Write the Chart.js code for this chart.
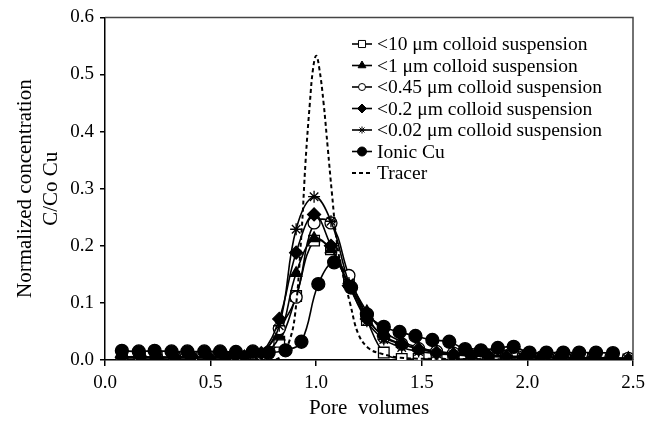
<!DOCTYPE html>
<html>
<head>
<meta charset="utf-8">
<script src="https://cdn.jsdelivr.net/npm/chart.js@4/dist/chart.umd.min.js"></script>
<style>
html,body{margin:0;padding:0;background:#fff;}
canvas{display:block;}
</style>
</head>
<body>
<canvas id="c" width="653" height="421"></canvas>
<script>
// ---- data ----
const seriesNames = [
  "<10 μm colloid suspension",
  "<1 μm colloid suspension",
  "<0.45 μm colloid suspension",
  "<0.2 μm colloid suspension",
  "<0.02 μm colloid suspension",
  "Ionic Cu",
  "Tracer"
];
const colloidPV = [0.08,0.165,0.245,0.33,0.41,0.495,0.575,0.66,0.74,0.825,0.905,0.99,1.07,1.155,1.24,1.32,1.405,1.485,1.57,1.65,1.735,1.815,1.9,1.98,2.065,2.15,2.23,2.31,2.395,2.478];
const c10um  = [0.006,0.004,0.005,0.004,0.005,0.004,0.005,0.004,0.006,0.032,0.112,0.209,0.194,0.136,0.070,0.013,0.002,0.002,0.001,0.001,0.002,0.001,0.001,0.002,0.001,0.001,0.001,0.002,0.001,0.001];
const c1um   = [0.005,0.004,0.006,0.004,0.005,0.004,0.005,0.005,0.008,0.041,0.152,0.213,0.194,0.140,0.085,0.050,0.032,0.022,0.015,0.011,0.008,0.007,0.006,0.005,0.005,0.004,0.004,0.004,0.003,0.003];
const c045um = [0.004,0.005,0.004,0.005,0.004,0.005,0.004,0.005,0.010,0.055,0.110,0.240,0.240,0.148,0.078,0.040,0.028,0.020,0.015,0.012,0.010,0.008,0.007,0.006,0.005,0.005,0.004,0.004,0.004,0.003];
const c02um  = [0.005,0.006,0.004,0.005,0.006,0.004,0.005,0.006,0.012,0.072,0.188,0.255,0.200,0.130,0.072,0.042,0.028,0.019,0.013,0.010,0.008,0.007,0.006,0.005,0.005,0.004,0.004,0.003,0.003,0.001];
const c002um = [0.003,0.004,0.003,0.004,0.003,0.004,0.003,0.004,0.010,0.060,0.229,0.286,0.243,0.135,0.068,0.036,0.022,0.015,0.011,0.009,0.007,0.006,0.005,0.005,0.004,0.004,0.003,0.003,0.003,0.002];
const ionicPV = [0.08,0.16,0.235,0.315,0.39,0.47,0.545,0.62,0.70,0.775,0.855,0.93,1.01,1.085,1.165,1.24,1.32,1.395,1.47,1.55,1.63,1.705,1.78,1.86,1.935,2.01,2.09,2.17,2.245,2.325,2.405];
const ionicCu = [0.016,0.015,0.016,0.015,0.015,0.015,0.015,0.014,0.015,0.013,0.017,0.032,0.133,0.171,0.127,0.080,0.058,0.049,0.042,0.035,0.032,0.019,0.017,0.021,0.023,0.013,0.013,0.013,0.013,0.013,0.012];
const tracerPV = [0.08,0.3,0.5,0.7,0.78,0.83,0.87,0.9,0.93,0.95,0.97,0.985,1.0,1.015,1.035,1.055,1.075,1.1,1.13,1.16,1.2,1.25,1.3,1.4,1.6,2.0,2.5];
const tracerC  = [0,0,0,0,0,0.005,0.03,0.08,0.22,0.35,0.45,0.51,0.533,0.51,0.45,0.37,0.29,0.2,0.145,0.1,0.045,0.02,0.012,0.004,0.002,0.001,0];
const xTicks = [0.0,0.5,1.0,1.5,2.0,2.5];
const yTicks = [0.0,0.1,0.2,0.3,0.4,0.5,0.6];

// ---- build chart ----
const pts = (xs, ys) => xs.map((x, i) => ({x: x, y: ys[i]}));
const SERIF = "'Liberation Serif','Times New Roman',serif";
Chart.defaults.color = '#000';
Chart.defaults.font.family = SERIF;

const styles = [
  {pointStyle:'rect',     r:7.5, lr:5,   fill:'#fff'},
  {pointStyle:'triangle', r:6.5, lr:4.5, fill:'#000'},
  {pointStyle:'circle',   r:6,   lr:3.5, fill:'#fff'},
  {pointStyle:'rectRot',  r:6.5, lr:4.5, fill:'#000'},
  {pointStyle:'star',     r:6,   lr:3.5, fill:'#000'},
  {pointStyle:'circle',   r:6.5, lr:4.5, fill:'#000'},
  {pointStyle:false,      r:0,   lr:0,   fill:'#000'}
];
const seriesData = [
  pts(colloidPV, c10um), pts(colloidPV, c1um), pts(colloidPV, c045um),
  pts(colloidPV, c02um), pts(colloidPV, c002um), pts(ionicPV, ionicCu),
  pts(tracerPV, tracerC)
];
const datasets = seriesNames.map((name, i) => ({
  label: name,
  data: seriesData[i],
  showLine: true,
  borderColor: '#000',
  backgroundColor: styles[i].fill,
  borderWidth: i === 6 ? 2 : 1.6,
  borderDash: i === 6 ? [4, 3] : [],
  tension: 0.4,
  pointStyle: styles[i].pointStyle,
  pointRadius: styles[i].r,
  pointBorderWidth: 1.3,
  pointBorderColor: '#000',
  pointBackgroundColor: styles[i].fill,
  order: seriesNames.length - i
}));

const framePlugin = {
  id: 'frame',
  afterDatasetsDraw(chart) {
    const {ctx, chartArea: a} = chart;
    ctx.save();
    ctx.strokeStyle = '#444';
    ctx.lineWidth = 1.5;
    ctx.beginPath();
    ctx.moveTo(a.left, a.top);
    ctx.lineTo(a.right, a.top);
    ctx.lineTo(a.right, a.bottom);
    ctx.stroke();
    ctx.restore();
  }
};

const legendPlugin = {
  id: 'innerLegend',
  afterDraw(chart) {
    const ctx = chart.ctx;
    const x0 = 352, x1 = 372, tx = 377, y0 = 44, dy = 21.5;
    ctx.save();
    chart.data.datasets.forEach((ds, i) => {
      const y = y0 + i * dy;
      ctx.strokeStyle = '#000';
      ctx.lineWidth = ds.borderWidth;
      ctx.setLineDash(ds.borderDash || []);
      ctx.beginPath();
      ctx.moveTo(x0, y); ctx.lineTo(x1, y);
      ctx.stroke();
      ctx.setLineDash([]);
      if (ds.pointStyle) {
        ctx.fillStyle = ds.pointBackgroundColor;
        ctx.strokeStyle = '#000';
        ctx.lineWidth = 1;
        Chart.helpers.drawPoint(ctx, {pointStyle: ds.pointStyle, radius: styles[i].lr, rotation: 0, borderWidth: 1}, (x0 + x1) / 2, y);
      }
      ctx.fillStyle = '#000';
      ctx.font = "19.5px " + SERIF;
      ctx.textBaseline = 'middle';
      ctx.textAlign = 'left';
      ctx.fillText(ds.label, tx, y + 1);
    });
    ctx.restore();
  }
};

new Chart(document.getElementById('c'), {
  type: 'scatter',
  data: {datasets},
  options: {
    responsive: false,
    animation: false,
    devicePixelRatio: 1,
    layout: {padding: {left: 0, right: 20, top: 15, bottom: 0}},
    plugins: {legend: {display: false}, tooltip: {enabled: false}},
    scales: {
      x: {
        type: 'linear', min: 0, max: 2.5,
        afterBuildTicks: s => { s.ticks = xTicks.map(v => ({value: v})); },
        afterFit: s => { s.height = 61; },
        ticks: {callback: v => Number(v).toFixed(1), font: {size: 19, family: SERIF}, color: '#000', padding: 6, maxRotation: 0},
        grid: {display: true, drawOnChartArea: false, drawTicks: true, tickLength: 6, color: '#000', lineWidth: 1.5},
        border: {display: true, color: '#000', width: 1.5},
        title: {display: true, text: 'Pore  volumes', font: {size: 21, family: SERIF}, color: '#000', padding: {top: 0, bottom: 0}}
      },
      y: {
        type: 'linear', min: 0, max: 0.6,
        afterBuildTicks: s => { s.ticks = yTicks.map(v => ({value: v})); },
        afterFit: s => { s.width = 105; },
        ticks: {callback: v => Number(v).toFixed(1), font: {size: 19, family: SERIF}, color: '#000', padding: 6},
        grid: {display: true, drawOnChartArea: false, drawTicks: true, tickLength: 5, color: '#000', lineWidth: 1.5},
        border: {display: true, color: '#000', width: 1.5},
        title: {display: true, text: ['Normalized concentration', 'C/Co Cu'], font: {size: 21, family: SERIF, lineHeight: 1.24}, color: '#000', padding: {top: 12, bottom: 0}}
      }
    }
  },
  plugins: [framePlugin, legendPlugin]
});
</script>
</body>
</html>
